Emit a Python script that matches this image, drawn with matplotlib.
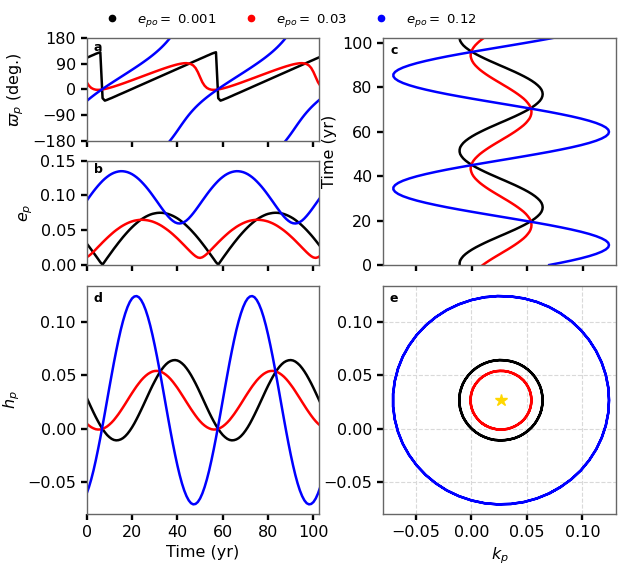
import numpy as np
import matplotlib
matplotlib.use("Agg")
import matplotlib.pyplot as plt
from matplotlib.lines import Line2D

# ---------------- data ----------------
time_yr = np.arange(104)  # yearly samples, 0 ... 103 yr

series_labels = [r"$e_{po}=$ 0.001", r"$e_{po}=$ 0.03", r"$e_{po}=$ 0.12"]
series_colors = ["black", "red", "blue"]

forced_k = 0.0266
forced_h = 0.0266

black_k = [
    -0.0108, -0.0108, -0.0103, -0.0091, -0.0075, -0.0053, -0.0026, 0.0005, 0.0040, 0.0079, 0.0120, 0.0163, 0.0209,
    0.0254, 0.0301, 0.0346, 0.0391, 0.0433, 0.0473, 0.0510, 0.0543, 0.0572, 0.0596, 0.0616, 0.0630, 0.0638,
    0.0641, 0.0638, 0.0630, 0.0616, 0.0596, 0.0572, 0.0543, 0.0510, 0.0473, 0.0433, 0.0391, 0.0346, 0.0301, 0.0254,
    0.0209, 0.0163, 0.0120, 0.0079, 0.0040, 0.0005, -0.0026, -0.0053, -0.0075, -0.0091, -0.0103, -0.0108, -0.0108,
    -0.0103, -0.0091, -0.0075, -0.0053, -0.0026, 0.0005, 0.0040, 0.0079, 0.0120, 0.0163, 0.0209, 0.0254, 0.0301,
    0.0346, 0.0391, 0.0433, 0.0473, 0.0510, 0.0543, 0.0572, 0.0596, 0.0616, 0.0630, 0.0638,
    0.0641, 0.0638, 0.0630, 0.0616, 0.0596, 0.0572, 0.0543, 0.0510, 0.0473, 0.0433, 0.0391, 0.0346, 0.0301, 0.0254,
    0.0209, 0.0163, 0.0120, 0.0079, 0.0040, 0.0005, -0.0026, -0.0053, -0.0075, -0.0091, -0.0103, -0.0108, -0.0108,
]
black_h = [
    0.0289, 0.0243, 0.0197, 0.0152, 0.0109, 0.0069, 0.0031, -0.0003, -0.0033, -0.0059, -0.0079, -0.0095, -0.0105,
    -0.0109, -0.0107, -0.0100, -0.0088, -0.0070, -0.0047, -0.0019, 0.0013, 0.0049, 0.0089, 0.0131, 0.0175, 0.0220,
    0.0266, 0.0312, 0.0358, 0.0402, 0.0443, 0.0483, 0.0519, 0.0551, 0.0579, 0.0602, 0.0620, 0.0632, 0.0639, 0.0641,
    0.0637, 0.0627, 0.0611, 0.0591, 0.0565, 0.0535, 0.0501, 0.0463, 0.0423, 0.0380, 0.0335, 0.0289, 0.0243,
    0.0197, 0.0152, 0.0109, 0.0069, 0.0031, -0.0003, -0.0033, -0.0059, -0.0079, -0.0095, -0.0105, -0.0109, -0.0107,
    -0.0100, -0.0088, -0.0070, -0.0047, -0.0019, 0.0013, 0.0049, 0.0089, 0.0131, 0.0175, 0.0220,
    0.0266, 0.0312, 0.0358, 0.0402, 0.0443, 0.0483, 0.0519, 0.0551, 0.0579, 0.0602, 0.0620, 0.0632, 0.0639, 0.0641,
    0.0637, 0.0627, 0.0611, 0.0591, 0.0565, 0.0535, 0.0501, 0.0463, 0.0423, 0.0380, 0.0335, 0.0289, 0.0243,
]

red_k = [
    0.0101, 0.0129, 0.0159, 0.0191, 0.0224, 0.0258, 0.0291, 0.0325, 0.0357, 0.0388, 0.0417, 0.0444, 0.0469,
    0.0490, 0.0507, 0.0522, 0.0532, 0.0538,
    0.0540, 0.0538, 0.0532, 0.0522, 0.0507, 0.0490, 0.0469, 0.0444, 0.0417, 0.0388, 0.0357, 0.0325, 0.0291, 0.0258,
    0.0224, 0.0191, 0.0159, 0.0129, 0.0101, 0.0075, 0.0053, 0.0033, 0.0017, 0.0005, -0.0003, -0.0008, -0.0008,
    -0.0003, 0.0005, 0.0017, 0.0033, 0.0053, 0.0075, 0.0101, 0.0129, 0.0159, 0.0191, 0.0224, 0.0258, 0.0291,
    0.0325, 0.0357, 0.0388, 0.0417, 0.0444, 0.0469, 0.0490, 0.0507, 0.0522, 0.0532, 0.0538,
    0.0540, 0.0538, 0.0532, 0.0522, 0.0507, 0.0490, 0.0469, 0.0444, 0.0417, 0.0388, 0.0357, 0.0325, 0.0291, 0.0258,
    0.0224, 0.0191, 0.0159, 0.0129, 0.0101, 0.0075, 0.0053, 0.0033, 0.0017, 0.0005, -0.0003, -0.0008, -0.0008,
    -0.0003, 0.0005, 0.0017, 0.0033, 0.0053, 0.0075, 0.0101, 0.0129,
]
red_h = [
    0.0047, 0.0029, 0.0014, 0.0003, -0.0005, -0.0008, -0.0007, -0.0002, 0.0008, 0.0021, 0.0038, 0.0058, 0.0081,
    0.0108, 0.0136, 0.0167, 0.0199, 0.0232,
    0.0266, 0.0300, 0.0333, 0.0365, 0.0396, 0.0424, 0.0451, 0.0474, 0.0494, 0.0511, 0.0524, 0.0534, 0.0539, 0.0540,
    0.0537, 0.0530, 0.0518, 0.0503, 0.0485, 0.0463, 0.0438, 0.0410, 0.0381, 0.0349, 0.0316, 0.0283, 0.0249,
    0.0216, 0.0183, 0.0152, 0.0122, 0.0094, 0.0069, 0.0047, 0.0029, 0.0014, 0.0003, -0.0005, -0.0008, -0.0007,
    -0.0002, 0.0008, 0.0021, 0.0038, 0.0058, 0.0081, 0.0108, 0.0136, 0.0167, 0.0199, 0.0232,
    0.0266, 0.0300, 0.0333, 0.0365, 0.0396, 0.0424, 0.0451, 0.0474, 0.0494, 0.0511, 0.0524, 0.0534, 0.0539, 0.0540,
    0.0537, 0.0530, 0.0518, 0.0503, 0.0485, 0.0463, 0.0438, 0.0410, 0.0381, 0.0349, 0.0316, 0.0283, 0.0249,
    0.0216, 0.0183, 0.0152, 0.0122, 0.0094, 0.0069, 0.0047, 0.0029,
]

blue_k = [
    0.0700, 0.0803, 0.0899, 0.0985, 0.1060, 0.1123, 0.1173, 0.1210, 0.1232,
    0.1239, 0.1232, 0.1210, 0.1173, 0.1123, 0.1060, 0.0985, 0.0899, 0.0803, 0.0700, 0.0589, 0.0474, 0.0356, 0.0236,
    0.0117, 0.0000, -0.0113, -0.0221, -0.0320, -0.0411, -0.0492, -0.0561, -0.0618, -0.0661, -0.0690, -0.0705,
    -0.0705, -0.0690, -0.0661, -0.0618, -0.0561, -0.0492, -0.0411, -0.0320, -0.0221, -0.0113, 0.0000, 0.0117,
    0.0236, 0.0356, 0.0474, 0.0589, 0.0700, 0.0803, 0.0899, 0.0985, 0.1060, 0.1123, 0.1173, 0.1210, 0.1232,
    0.1239, 0.1232, 0.1210, 0.1173, 0.1123, 0.1060, 0.0985, 0.0899, 0.0803, 0.0700, 0.0589, 0.0474, 0.0356, 0.0236,
    0.0117, 0.0000, -0.0113, -0.0221, -0.0320, -0.0411, -0.0492, -0.0561, -0.0618, -0.0661, -0.0690, -0.0705,
    -0.0705, -0.0690, -0.0661, -0.0618, -0.0561, -0.0492, -0.0411, -0.0320, -0.0221, -0.0113, 0.0000, 0.0117,
    0.0236, 0.0356, 0.0474, 0.0589, 0.0700, 0.0803,
]
blue_h = [
    -0.0605, -0.0545, -0.0473, -0.0390, -0.0296, -0.0194, -0.0086, 0.0029, 0.0146,
    0.0266, 0.0386, 0.0503, 0.0618, 0.0726, 0.0828, 0.0922, 0.1005, 0.1077, 0.1137, 0.1184, 0.1217, 0.1235, 0.1239,
    0.1228, 0.1202, 0.1162, 0.1109, 0.1043, 0.0965, 0.0876, 0.0778, 0.0673, 0.0561, 0.0445, 0.0326, 0.0206,
    0.0087, -0.0029, -0.0141, -0.0246, -0.0344, -0.0433, -0.0511, -0.0577, -0.0630, -0.0670, -0.0696, -0.0707,
    -0.0703, -0.0685, -0.0652, -0.0605, -0.0545, -0.0473, -0.0390, -0.0296, -0.0194, -0.0086, 0.0029, 0.0146,
    0.0266, 0.0386, 0.0503, 0.0618, 0.0726, 0.0828, 0.0922, 0.1005, 0.1077, 0.1137, 0.1184, 0.1217, 0.1235, 0.1239,
    0.1228, 0.1202, 0.1162, 0.1109, 0.1043, 0.0965, 0.0876, 0.0778, 0.0673, 0.0561, 0.0445, 0.0326, 0.0206,
    0.0087, -0.0029, -0.0141, -0.0246, -0.0344, -0.0433, -0.0511, -0.0577, -0.0630, -0.0670, -0.0696, -0.0707,
    -0.0703, -0.0685, -0.0652, -0.0605, -0.0545,
]

# ---------------- style ----------------
plt.rcParams.update({
    "font.family": ["DejaVu Sans"],
    "font.size": 11.5,
    "axes.linewidth": 1.0,
    "axes.edgecolor": "0.4",
    "xtick.major.size": 4.2,
    "ytick.major.size": 4.2,
    "xtick.major.width": 1.7,
    "ytick.major.width": 1.7,
    "xtick.labelsize": 11.5,
    "ytick.labelsize": 11.5,
    "axes.labelsize": 11.5,
})
LW = 1.8

W, H = 623, 569
fig = plt.figure(figsize=(W / 100, H / 100), dpi=100)


def px_axes(x0, y0, x1, y1):
    return fig.add_axes([x0 / W, 1 - y1 / H, (x1 - x0) / W, (y1 - y0) / H])


ax_a = px_axes(86.7, 38.0, 318.7, 140.7)
ax_b = px_axes(86.7, 160.7, 318.7, 265.0)
ax_c = px_axes(383.3, 38.0, 616.0, 265.0)
ax_d = px_axes(86.7, 286.0, 318.7, 514.0)
ax_e = px_axes(383.0, 286.0, 616.0, 514.0)

ks = [np.array(black_k), np.array(red_k), np.array(blue_k)]
hs = [np.array(black_h), np.array(red_h), np.array(blue_h)]

TMAX = 102.3
for k, h, c in zip(ks, hs, series_colors):
    e = np.hypot(h, k)
    w = np.degrees(np.unwrap(np.arctan2(h, k)))
    for off in (-1080, -720, -360, 0, 360):
        ax_a.plot(time_yr, w + off, color=c, lw=LW)
    ax_b.plot(time_yr, e, color=c, lw=LW)
    ax_c.plot(k, time_yr, color=c, lw=LW)
    ax_d.plot(time_yr, h, color=c, lw=LW)
    ax_e.plot(k, h, color=c, lw=LW)

ax_e.plot([forced_k], [forced_h], marker="*", color="gold", ms=9, ls="none", zorder=5)

# panel a
ax_a.set_xlim(0, TMAX)
ax_a.set_ylim(-180, 180)
ax_a.set_yticks([-180, -90, 0, 90, 180])
ax_a.set_xticks([0, 20, 40, 60, 80, 100])
ax_a.tick_params(labelbottom=False)
ax_a.set_ylabel(r"$\varpi_p$ (deg.)")

# panel b
ax_b.set_xlim(0, TMAX)
ax_b.set_ylim(0, 0.15)
ax_b.set_yticks([0.0, 0.05, 0.10, 0.15])
ax_b.set_xticks([0, 20, 40, 60, 80, 100])
ax_b.tick_params(labelbottom=False)
ax_b.set_ylabel(r"$e_p$")

# panel c
ax_c.set_xlim(-0.0796, 0.1302)
ax_c.set_ylim(0, TMAX)
ax_c.set_xticks([-0.05, 0.0, 0.05, 0.10])
ax_c.set_yticks([0, 20, 40, 60, 80, 100])
ax_c.tick_params(labelbottom=False)
ax_c.set_ylabel("Time (yr)")

# panel d
ax_d.set_xlim(0, TMAX)
ax_d.set_ylim(-0.0797, 0.1333)
ax_d.set_xticks([0, 20, 40, 60, 80, 100])
ax_d.set_yticks([-0.05, 0.0, 0.05, 0.10])
ax_d.set_xlabel("Time (yr)")
ax_d.set_ylabel(r"$h_p$")

# panel e
ax_e.set_xlim(-0.0796, 0.1302)
ax_e.set_ylim(-0.0797, 0.1333)
ax_e.set_xticks([-0.05, 0.0, 0.05, 0.10])
ax_e.set_yticks([-0.05, 0.0, 0.05, 0.10])
ax_e.grid(True, ls="--", color="0.85", lw=0.8)
ax_e.set_axisbelow(True)
ax_e.set_xlabel(r"$k_p$")

for ax, letter in zip([ax_a, ax_b, ax_c, ax_d, ax_e], "abcde"):
    ax.text(0.03, 0.975, letter, transform=ax.transAxes, ha="left", va="top",
            fontsize=9, fontweight="bold")

handles = [Line2D([], [], marker="o", ls="none", color=c, ms=4.5) for c in series_colors]
fig.legend(handles, series_labels, loc="center", bbox_to_anchor=(0.462, 0.9636), ncol=3,
           frameon=False, fontsize=9.5, handletextpad=0.9, columnspacing=1.6)

fig.savefig("out.png", dpi=100)
